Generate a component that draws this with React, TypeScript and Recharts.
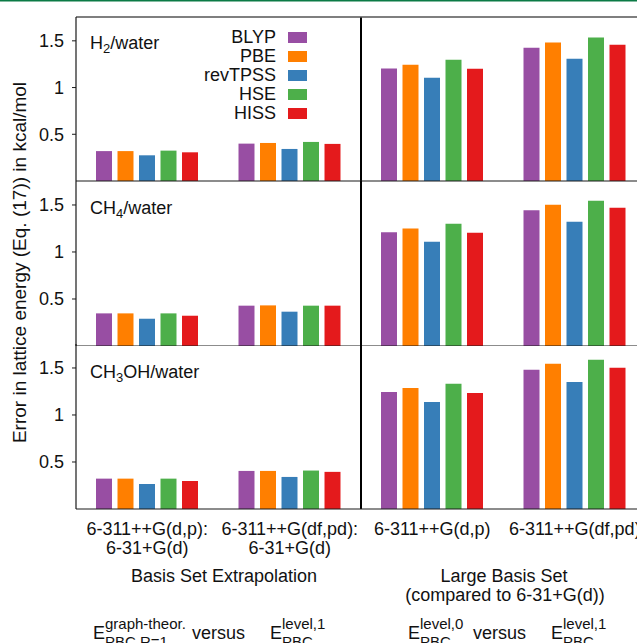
import React from 'react';
import { BarChart, Bar, XAxis, YAxis, Legend, ReferenceLine } from 'recharts';

const FONT = '"Liberation Sans", Arial, Helvetica, sans-serif';
const TEXT = '#111111';

// ---- categories / tick labels ----
const categories = ['dp-extrap', 'dfpd-extrap', 'dp-large', 'dfpd-large'];
const tickLine1 = ['6-311++G(d,p):', '6-311++G(df,pd):', '6-311++G(d,p)', '6-311++G(df,pd)'];
const tickLine2 = ['6-31+G(d)', '6-31+G(d)', '', ''];
const yTicks = [0.5, 1, 1.5];
const yMax = 1.755;

// ---- series ----
const methods = ['BLYP', 'PBE', 'revTPSS', 'HSE', 'HISS'];
const methodColors = ['#984ea3', '#ff7f00', '#377eb8', '#4daf4a', '#e41a1c'];

// H2/water
const h2BLYP = [0.32, 0.40, 1.204, 1.425];
const h2PBE = [0.32, 0.407, 1.243, 1.482];
const h2revTPSS = [0.275, 0.343, 1.104, 1.308];
const h2HSE = [0.325, 0.418, 1.297, 1.536];
const h2HISS = [0.307, 0.397, 1.2, 1.458];

// CH4/water
const ch4BLYP = [0.347, 0.429, 1.209, 1.443];
const ch4PBE = [0.347, 0.432, 1.251, 1.503];
const ch4revTPSS = [0.29, 0.365, 1.11, 1.322];
const ch4HSE = [0.347, 0.429, 1.301, 1.546];
const ch4HISS = [0.322, 0.429, 1.205, 1.471];

// CH3OH/water
const meohBLYP = [0.323, 0.405, 1.244, 1.481];
const meohPBE = [0.323, 0.405, 1.287, 1.545];
const meohrevTPSS = [0.266, 0.341, 1.137, 1.352];
const meohHSE = [0.323, 0.409, 1.333, 1.588];
const meohHISS = [0.298, 0.395, 1.233, 1.502];

function buildRows(series: number[][]) {
  return categories.map((cat, i) => {
    const row: Record<string, any> = { cat };
    methods.forEach((m, k) => {
      row[m] = series[k][i];
    });
    return row;
  });
}

const h2Data = buildRows([h2BLYP, h2PBE, h2revTPSS, h2HSE, h2HISS]);
const ch4Data = buildRows([ch4BLYP, ch4PBE, ch4revTPSS, ch4HSE, ch4HISS]);
const meohData = buildRows([meohBLYP, meohPBE, meohrevTPSS, meohHSE, meohHISS]);

const PANEL_H = 164;
const CHART_W = 646;

const XTick = (props: any) => {
  const { x, y, index } = props;
  return (
    <text x={x} y={y} textAnchor="middle" fontSize={18} fill={TEXT} fontFamily={FONT}>
      <tspan x={x} dy={26}>{tickLine1[index]}</tspan>
      {tickLine2[index] ? <tspan x={x} dy={18.5}>{tickLine2[index]}</tspan> : null}
    </text>
  );
};

const LegendBox = () => (
  <div style={{ width: 307, fontFamily: FONT, fontSize: 18, color: TEXT }}>
    {methods.map((m, i) => (
      <div
        key={m}
        style={{ display: 'flex', justifyContent: 'flex-end', alignItems: 'center', height: 19 }}
      >
        <span style={{ lineHeight: '19px' }}>{m}</span>
        <span
          style={{
            display: 'inline-block',
            width: 19,
            height: 11,
            background: methodColors[i],
            marginLeft: 12,
          }}
        />
      </div>
    ))}
  </div>
);

type RowProps = {
  data: any[];
  plotTop: number;
  kind: 'first' | 'middle' | 'last';
};

function PanelRow({ data, plotTop, kind }: RowProps) {
  const bottomH = kind === 'last' ? 70 : 1;
  const topH = kind === 'middle' ? 0 : 1;
  return (
    <div style={{ position: 'absolute', left: 0, top: plotTop - topH }}>
      <BarChart
        width={CHART_W}
        height={PANEL_H + bottomH + topH}
        data={data}
        margin={{ top: 0, right: 0, bottom: 0, left: 0 }}
        barSize={16}
        barGap={5.5}
        style={{ overflow: 'visible' }}
      >
        <XAxis
          xAxisId="b"
          dataKey="cat"
          type="category"
          orientation="bottom"
          axisLine={{ stroke: '#1a1a1a', strokeWidth: 1.2 }}
          tickLine={kind === 'middle' ? { stroke: '#1a1a1a' } : false}
          mirror={kind === 'middle'}
          tickSize={kind === 'middle' ? 4 : 0}
          tickMargin={0}
          tick={kind === 'last' ? <XTick /> : false}
          interval={0}
          height={bottomH}
        />
        {kind !== 'middle' ? (
          <XAxis
            xAxisId="t"
            dataKey="cat"
            type="category"
            orientation="top"
            axisLine={kind === 'first' ? { stroke: '#555555', strokeWidth: 1.5 } : false}
            tickLine={kind === 'last' ? { stroke: '#1a1a1a' } : false}
            mirror={kind === 'last'}
            tickSize={4}
            tick={false}
            interval={0}
            height={topH}
          />
        ) : null}
        <YAxis
          type="number"
          domain={[0, yMax]}
          ticks={yTicks}
          width={76}
          tickSize={4}
          tickMargin={8}
          axisLine={{ stroke: '#1a1a1a', strokeWidth: 1.2 }}
          tickLine={{ stroke: '#1a1a1a' }}
          tick={{ fontSize: 18, fill: TEXT, fontFamily: FONT }}
          allowDataOverflow
        />
        {methods.map((m, i) => (
          <Bar
            key={m}
            xAxisId="b"
            dataKey={m}
            name={m}
            fill={methodColors[i]}
            isAnimationActive={false}
          />
        ))}
        <ReferenceLine
          xAxisId="b"
          x={categories[1]}
          position="end"
          stroke="#000000"
          strokeWidth={2}
        />
        {kind === 'first' ? (
          <Legend
            layout="vertical"
            align="center"
            verticalAlign="middle"
            wrapperStyle={{ left: 0, top: 11.5, width: 307, height: 95 }}
            content={() => <LegendBox />}
          />
        ) : null}
      </BarChart>
    </div>
  );
}

const Formula = ({ x, sup, sub }: { x: number; sup: string; sub: string }) => (
  <g fontFamily={FONT} fill={TEXT}>
    <text x={x} y={639} fontSize={18}>E</text>
    <text x={x + 12} y={628.5} fontSize={15}>{sup}</text>
    <text x={x + 12} y={646.5} fontSize={15}>{sub}</text>
  </g>
);

export default function App() {
  return (
    <div
      style={{
        position: 'absolute',
        left: 0,
        top: 0,
        width: 637,
        height: 643,
        overflow: 'hidden',
        background: '#ffffff',
      }}
    >
      <PanelRow data={h2Data} plotTop={17} kind="first" />
      <PanelRow data={ch4Data} plotTop={181} kind="middle" />
      <PanelRow data={meohData} plotTop={345} kind="last" />
      <svg
        width={660}
        height={643}
        style={{ position: 'absolute', left: 0, top: 0, pointerEvents: 'none' }}
      >
        <rect x={0} y={0} width={660} height={1.5} fill="#0b7a45" />
        <g fontFamily={FONT} fill={TEXT} fontSize={18}>
          <text x={90} y={48.5}>
            H<tspan fontSize={13} dy={4}>2</tspan>
            <tspan dy={-4}>/water</tspan>
          </text>
          <text x={90} y={213.5}>
            CH<tspan fontSize={13} dy={4}>4</tspan>
            <tspan dy={-4}>/water</tspan>
          </text>
          <text x={90} y={377.5}>
            CH<tspan fontSize={13} dy={4}>3</tspan>
            <tspan dy={-4}>OH/water</tspan>
          </text>
          <text
            transform="translate(26,262.5) rotate(-90)"
            textAnchor="middle"
            fontSize={19}
          >
            Error in lattice energy (Eq. (17)) in kcal/mol
          </text>
          <text x={224} y={582} textAnchor="middle">Basis Set Extrapolation</text>
          <text x={504} y={582} textAnchor="middle">Large Basis Set</text>
          <text x={505} y={601} textAnchor="middle">(compared to 6-31+G(d))</text>
          <text x={192} y={639}>versus</text>
          <text x={473} y={639}>versus</text>
        </g>
        <Formula x={93} sup="graph-theor." sub="PBC,R=1" />
        <Formula x={270} sup="level,1" sub="PBC" />
        <Formula x={408} sup="level,0" sub="PBC" />
        <Formula x={551} sup="level,1" sub="PBC" />
      </svg>
    </div>
  );
}
